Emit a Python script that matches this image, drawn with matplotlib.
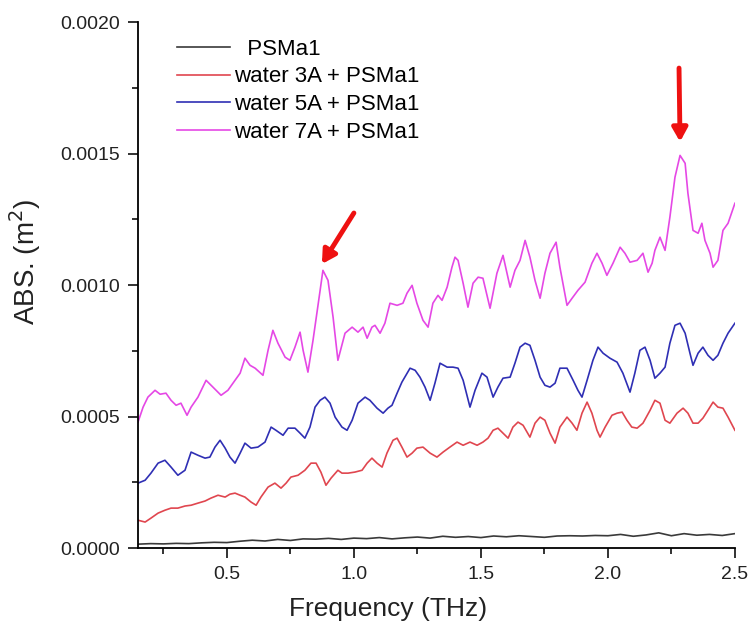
import numpy as np
import matplotlib
matplotlib.use("Agg")
import matplotlib.pyplot as plt
from matplotlib.ticker import MultipleLocator

plt.rcParams['font.family'] = ['Liberation Sans', 'DejaVu Sans']

# absorbance values are given in units of 1e-4 m^2
black_x = [0.15, 0.20, 0.25, 0.30, 0.35, 0.40, 0.45, 0.50, 0.55, 0.60, 0.65, 0.70,
           0.75, 0.80, 0.85, 0.90, 0.95, 1.00, 1.05, 1.10, 1.15, 1.20, 1.25, 1.30,
           1.35, 1.40, 1.45, 1.50, 1.55, 1.60, 1.65, 1.70, 1.75, 1.80, 1.85, 1.90,
           1.95, 2.00, 2.05, 2.10, 2.15, 2.20, 2.25, 2.30, 2.35, 2.40, 2.45, 2.50]
black_y = [0.15, 0.17, 0.16, 0.18, 0.17, 0.20, 0.22, 0.21, 0.26, 0.30, 0.27, 0.33,
           0.29, 0.35, 0.34, 0.37, 0.33, 0.38, 0.36, 0.40, 0.35, 0.39, 0.42, 0.38,
           0.45, 0.41, 0.44, 0.40, 0.46, 0.43, 0.47, 0.44, 0.41, 0.46, 0.47, 0.46,
           0.48, 0.47, 0.52, 0.45, 0.50, 0.58, 0.47, 0.55, 0.49, 0.52, 0.48, 0.55]

red_x = [0.150, 0.178, 0.201, 0.229, 0.256, 0.280, 0.307, 0.335, 0.359, 0.386, 0.414,
         0.437, 0.465, 0.493, 0.512, 0.532, 0.552, 0.571, 0.595, 0.615, 0.634, 0.662,
         0.689, 0.713, 0.733, 0.752, 0.780, 0.807, 0.831, 0.851, 0.870, 0.890, 0.910,
         0.937, 0.953, 0.977, 1.004, 1.032, 1.052, 1.071, 1.091, 1.111, 1.130, 1.154,
         1.170, 1.189, 1.209, 1.229, 1.248, 1.272, 1.300, 1.327, 1.351, 1.378, 1.406,
         1.430, 1.457, 1.485, 1.508, 1.528, 1.548, 1.567, 1.587, 1.607, 1.626, 1.646,
         1.666, 1.693, 1.713, 1.733, 1.752, 1.772, 1.792, 1.811, 1.839, 1.859, 1.878,
         1.898, 1.918, 1.937, 1.957, 1.969, 1.989, 2.016, 2.036, 2.056, 2.075, 2.094,
         2.115, 2.138, 2.166, 2.185, 2.205, 2.225, 2.244, 2.272, 2.296, 2.315, 2.335,
         2.355, 2.374, 2.394, 2.414, 2.433, 2.453, 2.473, 2.500]
red_y = [1.06, 0.99, 1.14, 1.33, 1.44, 1.52, 1.52, 1.60, 1.63, 1.71, 1.79,
         1.90, 2.01, 1.94, 2.05, 2.09, 2.01, 1.94, 1.75, 1.63, 1.94, 2.32,
         2.47, 2.28, 2.47, 2.70, 2.77, 2.96, 3.23, 3.23, 2.89, 2.39, 2.66,
         2.96, 2.85, 2.85, 2.89, 2.96, 3.23, 3.42, 3.23, 3.08, 3.61, 4.10,
         4.18, 3.84, 3.46, 3.61, 3.80, 3.84, 3.61, 3.46, 3.65, 3.84, 4.03,
         3.91, 4.03, 3.91, 4.03, 4.18, 4.48, 4.56, 4.37, 4.18, 4.60, 4.79,
         4.67, 4.22, 4.75, 4.98, 4.86, 4.37, 3.99, 4.60, 4.98, 4.75, 4.48,
         5.13, 5.55, 5.13, 4.48, 4.22, 4.60, 5.05, 5.13, 5.17, 4.86, 4.60,
         4.56, 4.75, 5.24, 5.62, 5.51, 4.86, 4.75, 5.13, 5.32, 5.13, 4.75,
         4.75, 4.94, 5.24, 5.55, 5.36, 5.32, 4.98, 4.48]

blue_x = [0.150, 0.178, 0.201, 0.229, 0.256, 0.280, 0.307, 0.335, 0.359, 0.386, 0.414,
          0.433, 0.453, 0.473, 0.493, 0.512, 0.532, 0.552, 0.571, 0.595, 0.622, 0.650,
          0.674, 0.693, 0.721, 0.741, 0.768, 0.788, 0.807, 0.827, 0.847, 0.867, 0.886,
          0.906, 0.926, 0.953, 0.973, 0.993, 1.016, 1.044, 1.063, 1.091, 1.115, 1.134,
          1.150, 1.170, 1.189, 1.221, 1.241, 1.260, 1.280, 1.300, 1.319, 1.339, 1.367,
          1.390, 1.410, 1.430, 1.457, 1.477, 1.504, 1.524, 1.548, 1.567, 1.587, 1.615,
          1.634, 1.654, 1.674, 1.693, 1.713, 1.733, 1.752, 1.772, 1.792, 1.811, 1.839,
          1.863, 1.882, 1.898, 1.918, 1.941, 1.961, 1.981, 2.008, 2.036, 2.059, 2.087,
          2.106, 2.126, 2.146, 2.166, 2.185, 2.205, 2.225, 2.244, 2.264, 2.284, 2.304,
          2.323, 2.335, 2.355, 2.374, 2.394, 2.414, 2.433, 2.453, 2.473, 2.500]
blue_y = [2.47, 2.58, 2.85, 3.23, 3.34, 3.08, 2.77, 2.96, 3.65, 3.53, 3.42,
          3.46, 3.84, 4.10, 3.80, 3.46, 3.23, 3.61, 3.99, 3.80, 3.84, 4.03,
          4.60, 4.48, 4.29, 4.56, 4.56, 4.37, 4.18, 4.60, 5.36, 5.62, 5.74,
          5.51, 4.98, 4.60, 4.48, 4.86, 5.51, 5.74, 5.62, 5.32, 5.13, 5.32,
          5.43, 5.89, 6.31, 6.84, 6.76, 6.50, 6.12, 5.62, 6.27, 7.03, 6.88,
          6.88, 6.84, 6.38, 5.36, 6.00, 6.65, 6.50, 5.74, 6.12, 6.46, 6.50,
          7.03, 7.64, 7.79, 7.71, 7.14, 6.50, 6.19, 6.12, 6.27, 6.84, 6.84,
          6.38, 6.00, 5.74, 6.38, 7.14, 7.64, 7.41, 7.22, 7.07, 6.65, 5.93,
          6.65, 7.52, 7.64, 7.14, 6.46, 6.65, 6.88, 7.79, 8.47, 8.55, 8.17,
          7.41, 6.95, 7.41, 7.64, 7.33, 7.14, 7.33, 7.79, 8.17, 8.55]

mag_x = [0.150, 0.170, 0.189, 0.217, 0.237, 0.260, 0.280, 0.300, 0.319, 0.343, 0.359,
         0.386, 0.418, 0.445, 0.477, 0.504, 0.532, 0.552, 0.571, 0.591, 0.611, 0.642,
         0.662, 0.681, 0.701, 0.729, 0.748, 0.768, 0.788, 0.800, 0.819, 0.839, 0.867,
         0.878, 0.898, 0.918, 0.937, 0.965, 0.993, 1.016, 1.036, 1.052, 1.071, 1.083,
         1.103, 1.122, 1.142, 1.170, 1.193, 1.209, 1.229, 1.248, 1.272, 1.292, 1.311,
         1.331, 1.347, 1.367, 1.386, 1.398, 1.410, 1.430, 1.449, 1.469, 1.489, 1.508,
         1.536, 1.563, 1.587, 1.615, 1.634, 1.654, 1.674, 1.693, 1.713, 1.733, 1.752,
         1.772, 1.796, 1.811, 1.839, 1.859, 1.882, 1.910, 1.937, 1.957, 1.977, 1.996,
         2.020, 2.048, 2.067, 2.087, 2.115, 2.138, 2.158, 2.174, 2.185, 2.205, 2.225,
         2.244, 2.264, 2.284, 2.304, 2.315, 2.335, 2.355, 2.370, 2.382, 2.402, 2.414,
         2.433, 2.453, 2.473, 2.500]
mag_y = [4.79, 5.36, 5.74, 6.00, 5.85, 5.89, 5.62, 5.43, 5.51, 5.05, 5.36,
         5.74, 6.38, 6.12, 5.81, 6.00, 6.38, 6.65, 7.22, 6.95, 6.84, 6.57,
         7.52, 8.28, 7.79, 7.26, 7.14, 7.64, 8.21, 7.52, 6.69, 7.90, 9.80,
         10.56, 10.18, 8.78, 7.14, 8.17, 8.40, 8.21, 8.40, 7.98, 8.40, 8.47,
         8.17, 8.55, 9.31, 9.23, 9.31, 9.69, 9.99, 9.31, 8.66, 8.40, 9.31,
         9.61, 9.42, 9.92, 10.68, 11.06, 10.94, 10.07, 9.16, 10.07, 10.30, 10.26,
         9.12, 10.45, 11.13, 9.92, 10.56, 10.94, 11.70, 11.06, 10.18, 9.50, 10.45,
         11.21, 11.63, 10.68, 9.23, 9.50, 9.80, 10.11, 10.83, 11.21, 10.83, 10.37,
         10.83, 11.44, 11.21, 10.87, 10.94, 11.21, 10.49, 10.83, 11.32, 11.82, 11.32,
         12.58, 14.10, 14.93, 14.63, 13.49, 12.08, 11.97, 12.35, 11.70, 11.21, 10.68,
         10.94, 12.08, 12.35, 13.11]

labels = ["  PSMa1", "water 3A + PSMa1", "water 5A + PSMa1", "water 7A + PSMa1"]
colors = ["#3a3a3a", "#e0464f", "#2f2fb4", "#e548e5"]

# arrows: (tail x, tail y, head x, head y)
arrows = [(1.00, 12.74e-4, 0.874, 10.80e-4),
          (2.28, 18.25e-4, 2.284, 15.45e-4)]

fig = plt.figure(figsize=(7.48, 6.3), dpi=100)
ax = fig.add_axes([0.1845, 0.130, 0.798, 0.835])

series = [(black_x, black_y), (red_x, red_y), (blue_x, blue_y), (mag_x, mag_y)]
for (xs, ys), lab, c in zip(series, labels, colors):
    ax.plot(xs, np.array(ys) * 1e-4, color=c, lw=1.2, label=lab)

for tx, ty, hx, hy in arrows:
    ax.annotate("", xy=(hx, hy), xytext=(tx, ty),
                arrowprops=dict(arrowstyle="-|>,head_width=0.45,head_length=0.8",
                                color="#ee1111", lw=3.5, shrinkA=0, shrinkB=0))

ax.set_xlim(0.15, 2.5)
ax.set_ylim(0, 0.002)
ax.xaxis.set_major_locator(MultipleLocator(0.5))
ax.xaxis.set_minor_locator(MultipleLocator(0.25))
ax.yaxis.set_major_locator(MultipleLocator(0.0005))
ax.yaxis.set_minor_locator(MultipleLocator(0.00025))
ax.xaxis.set_major_formatter(plt.FormatStrFormatter("%.1f"))
ax.yaxis.set_major_formatter(plt.FormatStrFormatter("%.4f"))

for s in ["top", "right"]:
    ax.spines[s].set_visible(False)
for s in ["left", "bottom"]:
    ax.spines[s].set_linewidth(1.3)
ax.tick_params(which="major", direction="out", length=7, width=1.3, labelsize=14,
               colors="#222222", pad=6)
ax.tick_params(which="minor", direction="out", length=4, width=1.3, colors="#222222")

ax.set_xlabel("Frequency (THz)", fontsize=19, color="#222222")
ax.set_ylabel("ABS. (m$^2$)", fontsize=20, color="#222222")
ax.xaxis.set_label_coords(0.419, -0.093)
ax.yaxis.set_label_coords(-0.160, 0.544)

leg = ax.legend(loc="upper left", bbox_to_anchor=(0.05, 0.985), frameon=False,
                fontsize=16, handlelength=2.4, handletextpad=0.2,
                labelspacing=0.3, borderaxespad=0)

fig.savefig("out.png", dpi=100)
